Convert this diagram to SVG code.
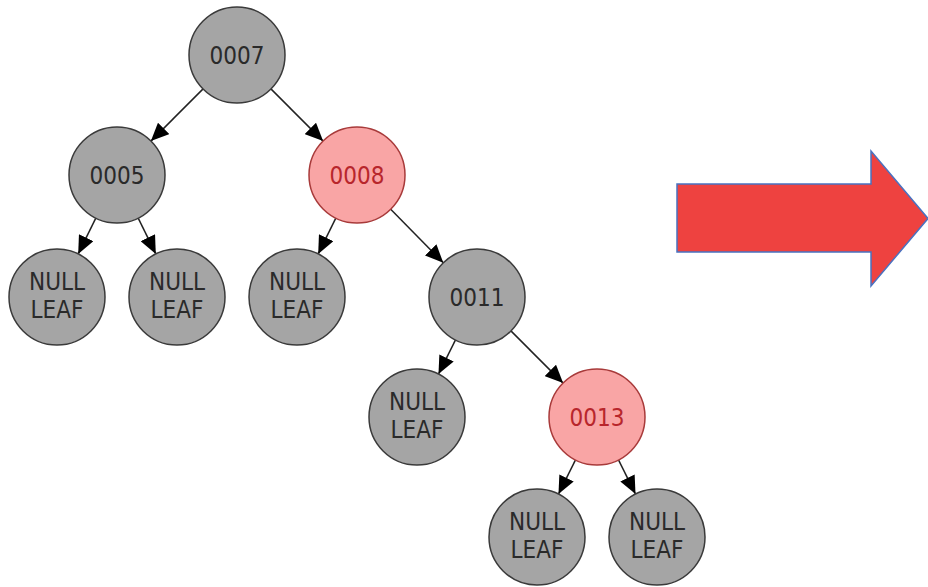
<svg xmlns="http://www.w3.org/2000/svg" width="928" height="587" viewBox="0 0 928 587">
<style>
.n circle{fill:#a5a5a5;stroke:#3a3a3a;stroke-width:1.5}
.r circle{fill:#f9a5a5;stroke:#a83a3a;stroke-width:1.5}
text{font-family:"DejaVu Sans Condensed","DejaVu Sans",sans-serif;font-size:24px;text-anchor:middle;fill:#2a2a2a}
.r text{fill:#b8262c}
#edges line{stroke:#222;stroke-width:1.5;marker-end:url(#ah)}
</style>
<defs>
<marker id="ah" markerUnits="userSpaceOnUse" markerWidth="20" markerHeight="16" refX="18" refY="8" orient="auto">
<path d="M0,0 L18,8 L0,16 z" fill="#000"/>
</marker>
</defs>
<rect width="928" height="587" fill="#fff"/>
<g id="edges">
<line x1="203.1" y1="88.9" x2="150.9" y2="141.1"/>
<line x1="270.9" y1="88.9" x2="323.1" y2="141.1"/>
<line x1="95.8" y1="218.1" x2="78.2" y2="253.9"/>
<line x1="138.2" y1="218.1" x2="155.8" y2="253.9"/>
<line x1="335.8" y1="218.1" x2="318.2" y2="253.9"/>
<line x1="390.7" y1="209.2" x2="443.3" y2="262.8"/>
<line x1="455.5" y1="339.9" x2="438.5" y2="374.1"/>
<line x1="510.9" y1="330.9" x2="563.1" y2="383.1"/>
<line x1="575.5" y1="459.9" x2="558.5" y2="494.1"/>
<line x1="618.5" y1="459.9" x2="635.5" y2="494.1"/>
</g>
<g id="n0007" class="n"><circle cx="237" cy="55" r="48"/><text x="237" y="64">0007</text></g>
<g id="n0005" class="n"><circle cx="117" cy="175" r="48"/><text x="117" y="184">0005</text></g>
<g id="n0008" class="r"><circle cx="357" cy="175" r="48"/><text x="357" y="184">0008</text></g>
<g id="leaf1" class="n"><circle cx="57" cy="297" r="48"/><text x="57" y="290">NULL</text><text x="57" y="318">LEAF</text></g>
<g id="leaf2" class="n"><circle cx="177" cy="297" r="48"/><text x="177" y="290">NULL</text><text x="177" y="318">LEAF</text></g>
<g id="leaf3" class="n"><circle cx="297" cy="297" r="48"/><text x="297" y="290">NULL</text><text x="297" y="318">LEAF</text></g>
<g id="n0011" class="n"><circle cx="477" cy="297" r="48"/><text x="477" y="306">0011</text></g>
<g id="leaf4" class="n"><circle cx="417" cy="417" r="48"/><text x="417" y="410">NULL</text><text x="417" y="438">LEAF</text></g>
<g id="n0013" class="r"><circle cx="597" cy="417" r="48"/><text x="597" y="426">0013</text></g>
<g id="leaf5" class="n"><circle cx="537" cy="537" r="48"/><text x="537" y="530">NULL</text><text x="537" y="558">LEAF</text></g>
<g id="leaf6" class="n"><circle cx="657" cy="537" r="48"/><text x="657" y="530">NULL</text><text x="657" y="558">LEAF</text></g>
<g id="bigArrow"><polygon points="677,184 871,184 871,151 928,218.5 871,286 871,252 677,252" fill="#ee4240" stroke="#4a72c0" stroke-width="1.5"/></g>
</svg>
